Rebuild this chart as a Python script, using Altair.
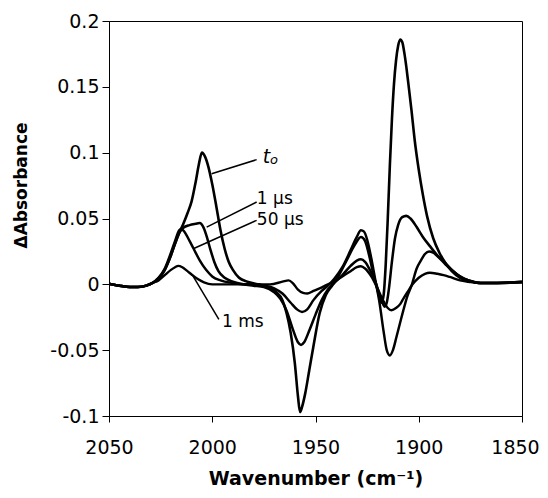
import altair as alt
import pandas as pd

# ---------------- data ----------------
series_names = ["t0", "1 µs", "50 µs", "1 ms"]

t0_wn = [2050, 2045, 2040, 2036, 2032, 2029, 2026, 2023, 2020, 2018, 2016, 2014, 2012, 2010, 2008,
         2006.5, 2005, 2003.5, 2002, 2000, 1998, 1996, 1994, 1992, 1990, 1987, 1983, 1978, 1973,
         1969, 1966, 1964, 1962, 1960, 1958.5, 1957.5, 1956.5, 1955, 1953, 1951, 1948, 1945,
         1942, 1939, 1935, 1931, 1928, 1926, 1924, 1922, 1920, 1918, 1917, 1916, 1915, 1914,
         1913, 1912, 1911, 1910, 1909, 1908, 1907, 1906, 1905, 1903.5, 1902, 1900, 1898, 1896,
         1893, 1890, 1887, 1884, 1880, 1876, 1870, 1862, 1850]
t0_val = [0.0005, -0.001, -0.002, -0.002, -0.001, 0.001, 0.004, 0.011, 0.022, 0.031, 0.039, 0.046,
          0.054, 0.063, 0.078, 0.091, 0.100, 0.097, 0.090, 0.076, 0.059, 0.041, 0.027, 0.017,
          0.011, 0.005, 0.002, 0.0, -0.002, -0.006, -0.012, -0.022, -0.037, -0.060, -0.085, -0.097,
          -0.093, -0.083, -0.065, -0.047, -0.022, -0.008, -0.001, 0.006, 0.018, 0.030, 0.036,
          0.033, 0.022, 0.008, -0.004, -0.014, -0.008, 0.015, 0.050, 0.090, 0.125, 0.152, 0.170,
          0.181, 0.186, 0.184, 0.176, 0.165, 0.152, 0.132, 0.110, 0.087, 0.068, 0.052, 0.035,
          0.024, 0.016, 0.010, 0.005, 0.003, 0.001, 0.001, 0.002]

us1_wn = [2050, 2045, 2040, 2036, 2032, 2029, 2026, 2023, 2020, 2018, 2016, 2014, 2011, 2008, 2006,
          2004.5, 2003, 2001, 1999, 1997, 1994, 1990, 1985, 1980, 1975, 1970, 1967, 1964, 1961,
          1958.5, 1957, 1955.5, 1953, 1950, 1947, 1944, 1941, 1937, 1933, 1930, 1928, 1926, 1924,
          1921, 1918.5, 1916.5, 1915.5, 1914.5, 1913, 1911.5, 1910, 1908, 1906, 1904, 1901, 1898,
          1894.6, 1891, 1887, 1884, 1880, 1876, 1870, 1862, 1850]
us1_val = [0.0005, -0.001, -0.002, -0.002, -0.001, 0.001, 0.005, 0.011, 0.022, 0.031, 0.039, 0.043,
           0.045, 0.046, 0.0465, 0.044, 0.038, 0.027, 0.017, 0.010, 0.005, 0.002, 0.0, -0.001,
           -0.002, -0.006, -0.011, -0.020, -0.034, -0.044, -0.046, -0.044, -0.035, -0.023, -0.012,
           -0.004, 0.001, 0.007, 0.014, 0.018, 0.019, 0.017, 0.012, 0.002, -0.010, -0.017, -0.014,
           -0.004, 0.017, 0.035, 0.045, 0.051, 0.052, 0.050, 0.0435, 0.036, 0.029, 0.022, 0.016,
           0.011, 0.006, 0.003, 0.001, 0.001, 0.002]

us50_wn = [2050, 2045, 2040, 2036, 2032, 2029, 2026, 2023, 2020, 2018, 2016, 2015, 2013.5, 2011, 2009,
           2006, 2003, 2000, 1996, 1990, 1985, 1980, 1975, 1970, 1966, 1962, 1959, 1956.5, 1954,
           1951, 1947, 1944, 1941, 1937, 1933, 1930, 1928, 1926.5, 1925, 1923, 1921, 1919, 1917,
           1915.5, 1914, 1912.5, 1910.8, 1909, 1907.5, 1905.5, 1903.5, 1901, 1899, 1897, 1895,
           1893, 1890, 1887, 1884, 1880, 1876, 1870, 1862, 1850]
us50_val = [0.0005, -0.001, -0.002, -0.002, -0.001, 0.001, 0.005, 0.012, 0.024, 0.033, 0.041, 0.042,
            0.040, 0.033, 0.027, 0.018, 0.011, 0.006, 0.003, 0.001, 0.0, 0.0, -0.001, -0.003,
            -0.007, -0.014, -0.019, -0.021, -0.019, -0.012, -0.005, -0.001, 0.004, 0.013, 0.026,
            0.036, 0.041, 0.040, 0.034, 0.020, 0.003, -0.014, -0.036, -0.050, -0.054, -0.050,
            -0.040, -0.029, -0.020, -0.009, -0.001, 0.012, 0.018, 0.023, 0.025, 0.024, 0.020,
            0.015, 0.011, 0.006, 0.003, 0.001, 0.001, 0.0015]

ms1_wn = [2050, 2045, 2040, 2036, 2032, 2029, 2026, 2023, 2020, 2018, 2016.5, 2014.5, 2012, 2010,
          2007, 2004, 2000, 1990, 1980, 1972, 1966, 1963, 1961, 1958.5, 1956, 1954, 1951, 1948,
          1944, 1941, 1937, 1933, 1930, 1928, 1926, 1923, 1920, 1917, 1915, 1913.2, 1911, 1909,
          1907.5, 1905.5, 1903, 1900, 1897, 1894.6, 1891, 1888, 1885, 1880, 1876, 1870, 1862, 1850]
ms1_val = [0.0005, -0.001, -0.002, -0.002, -0.001, 0.001, 0.003, 0.007, 0.011, 0.013, 0.014, 0.013,
           0.010, 0.0075, 0.004, 0.0015, 0.0, 0.0, 0.0, 0.0, 0.002, 0.003, 0.001, -0.004, -0.0065,
           -0.007, -0.005, -0.003, 0.0, 0.002, 0.006, 0.010, 0.013, 0.0137, 0.012, 0.006, -0.003,
           -0.013, -0.018, -0.0197, -0.018, -0.015, -0.011, -0.006, 0.0, 0.005, 0.008, 0.0088,
           0.008, 0.007, 0.0056, 0.003, 0.002, 0.001, 0.001, 0.0015]

# label texts and leader lines (data coordinates)
label_text = ["1 µs", "50 µs", "1 ms"]
label_wn = [1978.4, 1978.4, 1995.3]
label_val = [0.0645, 0.0486, -0.0289]

leader_wn = [2000.3, 2002.7, 2009.2, 2009.8]
leader_val = [0.084, 0.0435, 0.027, 0.0076]
leader_wn2 = [1978.5, 1978.5, 1978.5, 1996.8]
leader_val2 = [0.0947, 0.0625, 0.0486, -0.0266]

x_ticks = [2050, 2000, 1950, 1900, 1850]
y_ticks = [-0.1, -0.05, 0, 0.05, 0.1, 0.15, 0.2]

# ---------------- build tables ----------------
frames = []
for name, w, v in [("t0", t0_wn, t0_val), ("1 µs", us1_wn, us1_val),
                   ("50 µs", us50_wn, us50_val), ("1 ms", ms1_wn, ms1_val)]:
    frames.append(pd.DataFrame({"wn": w, "v": v, "series": name}))
spectra = pd.DataFrame(pd.concat(frames, ignore_index=True))

labels = pd.DataFrame({"wn": label_wn, "v": label_val, "text": label_text})
leaders = pd.DataFrame({"wn": leader_wn, "v": leader_val, "wn2": leader_wn2, "v2": leader_val2})
t_lab = pd.DataFrame({"wn": [1975.5], "v": [0.0919], "text": ["t"]})
o_lab = pd.DataFrame({"wn": [1972.0], "v": [0.0911], "text": ["o"]})

FONT = "DejaVu Sans"
xscale = alt.Scale(domain=[1850, 2050], reverse=True, nice=False, zero=False)
yscale = alt.Scale(domain=[-0.1, 0.2], nice=False, zero=False)

xaxis = alt.Axis(values=x_ticks, format="d", title="Wavenumber (cm⁻¹)",
                 tickSize=6, labelPadding=16, labelFontSize=19, labelFlush=False,
                 labelOverlap=False,
                 labelOffset={"condition": {"test": "datum.value == 1850", "value": -7},
                              "value": 0},
                 titleFontSize=19, titleFontWeight="bold",
                 titleY=68, titleBaseline="alphabetic")
yaxis = alt.Axis(values=y_ticks, labelExpr="datum.value + ''", title="ΔAbsorbance",
                 tickSize=7, labelPadding=3, labelFontSize=19, labelFlush=False,
                 labelOverlap=False,
                 titleFontSize=17, titleFontWeight="bold",
                 titleX=-88, titleY=164, titleAngle=270,
                 titleBaseline="middle", titleAlign="center")

X = alt.X("wn:Q", scale=xscale, axis=xaxis)
Y = alt.Y("v:Q", scale=yscale, axis=yaxis)

lines = alt.Chart(spectra).mark_line(interpolate="monotone", color="black").encode(
    x=X, y=Y,
    detail="series:N",
    order=alt.Order("wn:Q", sort="descending"),
    strokeWidth=alt.StrokeWidth("series:N",
                                scale=alt.Scale(domain=series_names, range=[2.6, 2.4, 1.2, 2.2]),
                                legend=None),
)

leader_rules = alt.Chart(leaders).mark_rule(color="black", strokeWidth=1.5).encode(
    x=X, y=Y, x2="wn2:Q", y2="v2:Q",
)

label_marks = alt.Chart(labels).mark_text(align="left", baseline="middle", font=FONT,
                                          fontSize=17, color="black").encode(
    x=X, y=Y, text="text:N",
)

t_mark = alt.Chart(t_lab).mark_text(align="left", baseline="alphabetic", font=FONT,
                                    fontSize=19, fontStyle="italic", color="black").encode(
    x=X, y=Y, text="text:N",
)
o_mark = alt.Chart(o_lab).mark_text(align="left", baseline="alphabetic", font=FONT,
                                    fontSize=13, fontStyle="italic", color="black").encode(
    x=X, y=Y, text="text:N",
)

chart = alt.layer(lines, leader_rules, label_marks, t_mark, o_mark).properties(
    width=413, height=395,
    autosize=alt.AutoSizeParams(type="none"),
    padding={"left": 101, "top": 13, "right": 18, "bottom": 74},
    background="white",
).configure_view(
    stroke="black", strokeWidth=1
).configure_axis(
    grid=False, domainColor="black", domainWidth=1, tickColor="black", tickWidth=1,
    labelColor="black", titleColor="black", labelFont=FONT, titleFont=FONT,
)

chart.save("out.html", embed_options={"renderer": "svg", "actions": False})
